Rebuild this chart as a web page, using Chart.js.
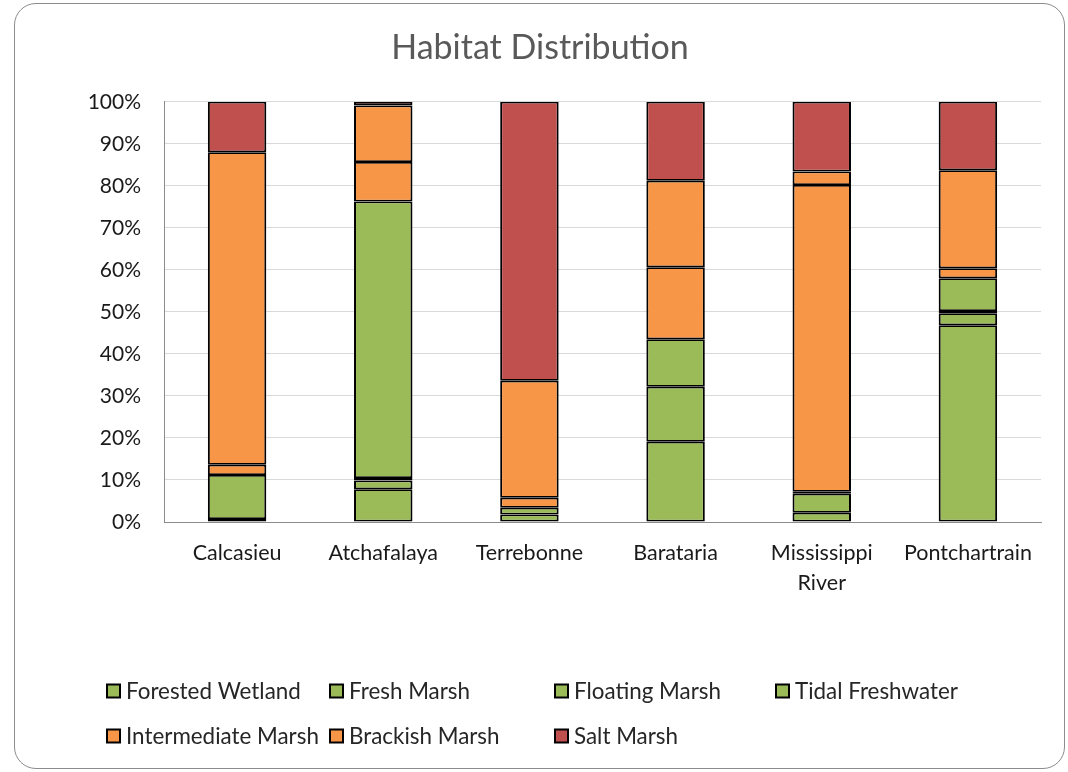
<!DOCTYPE html>
<html>
<head>
<meta charset="utf-8">
<script src="https://cdn.jsdelivr.net/npm/chart.js@4"></script>
<style>
  html, body { margin: 0; padding: 0; background: #ffffff; }
  #frame {
    position: absolute; left: 14px; top: 3px; width: 1051px; height: 766px;
    border: 1px solid #8c8c8c; border-radius: 22px; box-sizing: border-box;
  }
  #chart { position: absolute; left: 0; top: 0; }
</style>
</head>
<body>
<div id="frame"></div>
<canvas id="chart" width="1068" height="772"></canvas>
<script>
// Basin names along the x axis
const categories = ['Calcasieu', 'Atchafalaya', 'Terrebonne', 'Barataria', ['Mississippi', 'River'], 'Pontchartrain'];

// Share of each habitat type per basin (percent)
const forestedWetland   = [0.7, 7.8, 1.8, 19.1, 2.2, 46.8];
const freshMarsh        = [10.5, 2.1, 1.6, 13.1, 4.5, 2.9];
const floatingMarsh     = [0, 0.6, 0, 11.3, 0.5, 0.5];
const tidalFreshwater   = [0, 65.8, 0, 0, 0, 7.8];
const intermediateMarsh = [2.4, 9.4, 2.4, 17.1, 73.0, 2.4];
const brackishMarsh     = [74.4, 13.4, 27.8, 20.6, 3.2, 23.3];
const saltMarsh         = [12.0, 0.9, 66.4, 18.8, 16.6, 16.3];

// Y axis tick values
const yTicks = [0, 10, 20, 30, 40, 50, 60, 70, 80, 90, 100];

const GREEN = '#9BBB59', ORANGE = '#F79646', RED = '#C0504D';
const FONT = 'Lato';

const series = [
  ['Forested Wetland', forestedWetland, GREEN],
  ['Fresh Marsh', freshMarsh, GREEN],
  ['Floating Marsh', floatingMarsh, GREEN],
  ['Tidal Freshwater', tidalFreshwater, GREEN],
  ['Intermediate Marsh', intermediateMarsh, ORANGE],
  ['Brackish Marsh', brackishMarsh, ORANGE],
  ['Salt Marsh', saltMarsh, RED]
];

const datasets = series.map(([label, data, color]) => ({
  label, data,
  backgroundColor: color,
  borderColor: '#000000',
  borderWidth: { top: 1.75, bottom: 1.75, left: 2, right: 2 },
  borderSkipped: false,
  barPercentage: 1,
  categoryPercentage: 0.4
}));

// Legend laid out in fixed columns, two rows, below the axis labels
const gridLegend = {
  id: 'gridLegend',
  afterDraw(chart) {
    const ctx = chart.ctx;
    const colX = [107, 330, 555, 776];
    const rowY = [691, 736];
    ctx.save();
    ctx.font = '22.4px ' + FONT;
    ctx.textBaseline = 'middle';
    ctx.textAlign = 'left';
    chart.data.datasets.forEach((ds, i) => {
      const x = colX[i % 4];
      const y = rowY[Math.floor(i / 4)];
      ctx.fillStyle = ds.backgroundColor;
      ctx.fillRect(x, y - 6.5, 13, 13);
      ctx.strokeStyle = '#000000';
      ctx.lineWidth = 2;
      ctx.strokeRect(x, y - 6.5, 13, 13);
      ctx.fillStyle = '#262626';
      ctx.fillText(ds.label, x + 19, y + 1);
    });
    ctx.restore();
  }
};

new Chart(document.getElementById('chart'), {
  type: 'bar',
  data: { labels: categories, datasets },
  plugins: [gridLegend],
  options: {
    responsive: false,
    animation: false,
    layout: { padding: { left: 39, right: 27, top: 0, bottom: 0 } },
    plugins: {
      legend: { display: false },
      tooltip: { enabled: false },
      title: {
        display: true,
        text: 'Habitat Distribution',
        color: '#595959',
        font: { family: FONT, size: 34, weight: 'normal' },
        padding: { top: 28, bottom: 33 }
      }
    },
    scales: {
      x: {
        stacked: true,
        grid: { display: false, drawTicks: false },
        border: { display: true, color: '#8c8c8c', width: 1 },
        ticks: {
          color: '#1a1a1a',
          font: { family: FONT, size: 21.5, lineHeight: 1.4 },
          padding: 16,
          maxRotation: 0,
          autoSkip: false
        },
        afterFit(scale) { scale.height = 250; }
      },
      y: {
        stacked: true,
        min: 0, max: 100,
        afterBuildTicks(scale) { scale.ticks = yTicks.map(v => ({ value: v })); },
        grid: { color: '#d9d9d9', lineWidth: 1, drawTicks: false },
        border: { display: true, color: '#8c8c8c', width: 1 },
        ticks: {
          color: '#1a1a1a',
          font: { family: FONT, size: 21 },
          padding: 23,
          callback: v => v + '%'
        },
        afterFit(scale) { scale.width = 125; }
      }
    }
  }
});
</script>
</body>
</html>
